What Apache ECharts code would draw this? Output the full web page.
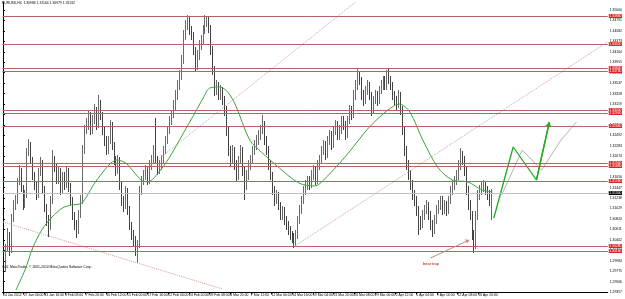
<!DOCTYPE html>
<html><head><meta charset="utf-8">
<script src="https://cdn.jsdelivr.net/npm/echarts@6/dist/echarts.min.js"></script>
<style>html,body{margin:0;padding:0;background:#fff}#c{width:625px;height:299px}</style>
</head><body><div id="c"></div>
<script>
const titleText = 'EURUSD,H4  1.30986 1.31164 1.30979 1.31132';
const copyrightText = 'GDL MetaTrader, \u00a9 2001-2014 MetaQuotes Software Corp.';
const noteText = 'bear trap';

const timeLabels = ['24 Jan 2012','27 Jan 04:00','31 Jan 16:00','3 Feb 08:00','7 Feb 20:00','10 Feb 12:00','15 Feb 00:00','17 Feb 16:00','22 Feb 04:00','24 Feb 20:00','29 Feb 08:00','4 Mar 20:00','7 Mar 12:00','12 Mar 00:00','14 Mar 16:00','19 Mar 04:00','21 Mar 20:00','26 Mar 08:00','29 Mar 00:00','2 Apr 12:00','5 Apr 04:00','9 Apr 16:00','12 Apr 08:00','16 Apr 20:00'];
const timeLabelBars = [0,16,32,48,64,80,96,112,128,144,160,176,192,208,224,240,256,272,288,304,320,336,352,368];

const priceTicks = [1.35000,1.34791,1.34582,1.34373,1.34164,1.33955,1.33746,1.33537,1.33328,1.33119,1.32910,1.32701,1.32492,1.32283,1.32074,1.31865,1.31656,1.31447,1.31238,1.31029,1.30820,1.30611,1.30402,1.30193,1.29984,1.29775,1.29566,1.29357];

const levels = [1.3488,1.3432,1.3384,1.3378,1.3300,1.3294,1.3268,1.3194,1.3188,1.3158,1.3028,1.3018];
const bidPrice = 1.3134;

// [open, close, low, high]
const candles = [
[1.3010,1.2984,1.2950,1.3020],[1.2984,1.3024,1.2976,1.3032],[1.3024,1.3050,1.3016,1.3064],[1.3050,1.3020,1.3008,1.3056],[1.3020,1.3084,1.3014,1.3092],[1.3084,1.3110,1.3076,1.3120],
[1.3110,1.3120,1.3100,1.3130],[1.3120,1.3156,1.3112,1.3164],[1.3156,1.3180,1.3150,1.3190],[1.3180,1.3144,1.3136,1.3184],[1.3144,1.3110,1.3100,1.3150],[1.3110,1.3130,1.3104,1.3140],
[1.3130,1.3216,1.3124,1.3224],[1.3216,1.3230,1.3208,1.3242],[1.3230,1.3200,1.3192,1.3236],[1.3200,1.3170,1.3160,1.3206],[1.3170,1.3150,1.3140,1.3176],[1.3150,1.3130,1.3120,1.3156],
[1.3130,1.3176,1.3124,1.3184],[1.3176,1.3196,1.3168,1.3206],[1.3196,1.3140,1.3132,1.3200],[1.3140,1.3104,1.3096,1.3148],[1.3104,1.3080,1.3068,1.3112],[1.3080,1.3068,1.3046,1.3090],
[1.3068,1.3120,1.3060,1.3128],[1.3120,1.3200,1.3112,1.3220],[1.3200,1.3188,1.3176,1.3208],[1.3188,1.3160,1.3152,1.3194],[1.3160,1.3180,1.3152,1.3188],[1.3180,1.3140,1.3130,1.3184],
[1.3140,1.3168,1.3132,1.3176],[1.3168,1.3150,1.3140,1.3176],[1.3150,1.3180,1.3144,1.3188],[1.3180,1.3148,1.3136,1.3184],[1.3148,1.3120,1.3110,1.3154],[1.3120,1.3090,1.3080,1.3126],
[1.3090,1.3070,1.3060,1.3096],[1.3070,1.3060,1.3044,1.3080],[1.3060,1.3090,1.3052,1.3100],[1.3090,1.3120,1.3084,1.3130],[1.3120,1.3220,1.3112,1.3230],[1.3220,1.3260,1.3212,1.3270],
[1.3260,1.3270,1.3252,1.3284],[1.3270,1.3290,1.3260,1.3300],[1.3290,1.3260,1.3250,1.3296],[1.3260,1.3280,1.3252,1.3290],[1.3280,1.3300,1.3272,1.3312],[1.3300,1.3270,1.3260,1.3306],
[1.3270,1.3310,1.3264,1.3330],[1.3310,1.3290,1.3280,1.3320],[1.3290,1.3260,1.3250,1.3296],[1.3260,1.3240,1.3228,1.3266],[1.3240,1.3220,1.3210,1.3248],[1.3220,1.3240,1.3212,1.3248],
[1.3240,1.3270,1.3232,1.3280],[1.3270,1.3230,1.3220,1.3276],[1.3230,1.3200,1.3190,1.3236],[1.3200,1.3180,1.3168,1.3208],[1.3180,1.3200,1.3172,1.3210],[1.3200,1.3150,1.3140,1.3206],
[1.3150,1.3120,1.3108,1.3156],[1.3120,1.3110,1.3096,1.3128],[1.3110,1.3140,1.3102,1.3148],[1.3140,1.3100,1.3090,1.3144],[1.3100,1.3070,1.3060,1.3108],[1.3070,1.3050,1.3040,1.3076],
[1.3050,1.3040,1.3028,1.3060],[1.3040,1.3020,1.3008,1.3048],[1.3020,1.3030,1.2994,1.3040],[1.3030,1.3140,1.3024,1.3148],[1.3140,1.3160,1.3130,1.3168],[1.3160,1.3170,1.3150,1.3180],
[1.3170,1.3180,1.3160,1.3190],[1.3180,1.3160,1.3150,1.3188],[1.3160,1.3190,1.3152,1.3200],[1.3190,1.3200,1.3180,1.3210],[1.3200,1.3220,1.3192,1.3230],[1.3220,1.3200,1.3192,1.3284],
[1.3200,1.3180,1.3170,1.3208],[1.3180,1.3190,1.3172,1.3200],[1.3190,1.3200,1.3180,1.3210],[1.3200,1.3220,1.3192,1.3228],[1.3220,1.3240,1.3212,1.3248],[1.3240,1.3260,1.3232,1.3268],
[1.3260,1.3280,1.3252,1.3288],[1.3280,1.3290,1.3270,1.3300],[1.3290,1.3310,1.3284,1.3320],[1.3310,1.3330,1.3300,1.3340],[1.3330,1.3350,1.3320,1.3360],[1.3350,1.3370,1.3340,1.3380],
[1.3370,1.3400,1.3360,1.3410],[1.3400,1.3450,1.3392,1.3460],[1.3450,1.3470,1.3440,1.3480],[1.3470,1.3480,1.3460,1.3490],[1.3480,1.3460,1.3450,1.3486],[1.3460,1.3450,1.3440,1.3468],
[1.3450,1.3420,1.3410,1.3456],[1.3420,1.3390,1.3376,1.3426],[1.3390,1.3410,1.3380,1.3420],[1.3410,1.3430,1.3400,1.3440],[1.3430,1.3440,1.3420,1.3450],[1.3440,1.3460,1.3432,1.3470],
[1.3460,1.3476,1.3452,1.3490],[1.3476,1.3480,1.3466,1.3488],[1.3480,1.3464,1.3454,1.3486],[1.3464,1.3420,1.3410,1.3470],[1.3420,1.3380,1.3370,1.3428],[1.3380,1.3340,1.3328,1.3388],
[1.3340,1.3350,1.3330,1.3360],[1.3350,1.3330,1.3320,1.3356],[1.3330,1.3340,1.3320,1.3350],[1.3340,1.3320,1.3310,1.3346],[1.3320,1.3300,1.3288,1.3328],[1.3300,1.3260,1.3248,1.3308],
[1.3260,1.3220,1.3208,1.3268],[1.3220,1.3200,1.3188,1.3228],[1.3200,1.3220,1.3192,1.3230],[1.3220,1.3190,1.3180,1.3226],[1.3190,1.3170,1.3156,1.3200],[1.3170,1.3200,1.3160,1.3208],
[1.3200,1.3220,1.3192,1.3230],[1.3220,1.3180,1.3168,1.3226],[1.3180,1.3150,1.3120,1.3188],[1.3150,1.3170,1.3140,1.3180],[1.3170,1.3190,1.3160,1.3200],[1.3190,1.3200,1.3180,1.3210],
[1.3200,1.3220,1.3192,1.3228],[1.3220,1.3230,1.3210,1.3240],[1.3230,1.3240,1.3220,1.3250],[1.3240,1.3250,1.3230,1.3260],[1.3250,1.3260,1.3240,1.3270],[1.3260,1.3270,1.3252,1.3290],
[1.3270,1.3240,1.3230,1.3278],[1.3240,1.3220,1.3210,1.3248],[1.3220,1.3190,1.3180,1.3228],[1.3190,1.3170,1.3160,1.3200],[1.3170,1.3140,1.3130,1.3176],[1.3140,1.3120,1.3108,1.3148],
[1.3120,1.3130,1.3112,1.3140],[1.3130,1.3110,1.3100,1.3136],[1.3110,1.3090,1.3080,1.3116],[1.3090,1.3100,1.3080,1.3108],[1.3100,1.3080,1.3070,1.3106],[1.3080,1.3070,1.3060,1.3088],
[1.3070,1.3060,1.3050,1.3078],[1.3060,1.3050,1.3040,1.3068],[1.3050,1.3044,1.3034,1.3058],[1.3044,1.3036,1.3024,1.3054],[1.3036,1.3050,1.3028,1.3060],[1.3050,1.3080,1.3042,1.3088],
[1.3080,1.3100,1.3072,1.3110],[1.3100,1.3120,1.3092,1.3128],[1.3120,1.3140,1.3112,1.3148],[1.3140,1.3150,1.3130,1.3160],[1.3150,1.3160,1.3140,1.3168],[1.3160,1.3150,1.3140,1.3168],
[1.3150,1.3170,1.3144,1.3180],[1.3170,1.3180,1.3160,1.3190],[1.3180,1.3160,1.3150,1.3188],[1.3160,1.3190,1.3152,1.3200],[1.3190,1.3200,1.3180,1.3210],[1.3200,1.3220,1.3192,1.3228],
[1.3220,1.3230,1.3210,1.3240],[1.3230,1.3210,1.3200,1.3238],[1.3210,1.3240,1.3204,1.3248],[1.3240,1.3250,1.3230,1.3260],[1.3250,1.3230,1.3220,1.3258],[1.3230,1.3260,1.3224,1.3268],
[1.3260,1.3270,1.3250,1.3280],[1.3270,1.3250,1.3240,1.3278],[1.3250,1.3260,1.3240,1.3270],[1.3260,1.3280,1.3252,1.3288],[1.3280,1.3270,1.3260,1.3288],[1.3270,1.3250,1.3240,1.3278],
[1.3250,1.3280,1.3244,1.3288],[1.3280,1.3300,1.3272,1.3310],[1.3300,1.3290,1.3280,1.3308],[1.3290,1.3330,1.3284,1.3340],[1.3330,1.3350,1.3320,1.3360],[1.3350,1.3370,1.3340,1.3384],
[1.3370,1.3360,1.3350,1.3378],[1.3360,1.3330,1.3320,1.3366],[1.3330,1.3320,1.3308,1.3340],[1.3320,1.3340,1.3312,1.3348],[1.3340,1.3350,1.3330,1.3360],[1.3350,1.3330,1.3320,1.3356],
[1.3330,1.3300,1.3288,1.3336],[1.3300,1.3320,1.3292,1.3328],[1.3320,1.3330,1.3312,1.3340],[1.3330,1.3320,1.3308,1.3338],[1.3320,1.3340,1.3312,1.3348],[1.3340,1.3350,1.3332,1.3360],
[1.3350,1.3360,1.3340,1.3368],[1.3360,1.3350,1.3340,1.3368],[1.3350,1.3370,1.3340,1.3380],[1.3370,1.3360,1.3352,1.3384],[1.3360,1.3350,1.3340,1.3368],[1.3350,1.3330,1.3320,1.3356],
[1.3330,1.3320,1.3310,1.3338],[1.3320,1.3310,1.3300,1.3328],[1.3310,1.3330,1.3304,1.3340],[1.3330,1.3300,1.3290,1.3336],[1.3300,1.3260,1.3250,1.3308],[1.3260,1.3220,1.3208,1.3268],
[1.3220,1.3190,1.3180,1.3228],[1.3190,1.3170,1.3160,1.3200],[1.3170,1.3150,1.3140,1.3180],[1.3150,1.3130,1.3120,1.3160],[1.3130,1.3120,1.3108,1.3140],[1.3120,1.3100,1.3088,1.3128],
[1.3100,1.3080,1.3050,1.3108],[1.3080,1.3070,1.3060,1.3088],[1.3070,1.3090,1.3064,1.3100],[1.3090,1.3100,1.3080,1.3110],[1.3100,1.3110,1.3092,1.3120],[1.3110,1.3090,1.3080,1.3116],
[1.3090,1.3070,1.3060,1.3098],[1.3070,1.3060,1.3046,1.3080],[1.3060,1.3080,1.3052,1.3090],[1.3080,1.3100,1.3072,1.3110],[1.3100,1.3110,1.3092,1.3120],[1.3110,1.3120,1.3100,1.3128],
[1.3120,1.3100,1.3090,1.3128],[1.3100,1.3110,1.3092,1.3120],[1.3110,1.3100,1.3088,1.3118],[1.3100,1.3120,1.3092,1.3128],[1.3120,1.3140,1.3112,1.3148],[1.3140,1.3150,1.3130,1.3160],
[1.3150,1.3160,1.3140,1.3168],[1.3160,1.3170,1.3150,1.3180],[1.3170,1.3190,1.3160,1.3200],[1.3190,1.3210,1.3180,1.3224],[1.3210,1.3200,1.3190,1.3218],[1.3200,1.3180,1.3168,1.3208],
[1.3180,1.3140,1.3130,1.3188],[1.3140,1.3110,1.3100,1.3148],[1.3110,1.3090,1.3080,1.3120],[1.3090,1.3050,1.3040,1.3098],[1.3050,1.3030,1.3014,1.3060],[1.3030,1.3090,1.3022,1.3098],
[1.3090,1.3130,1.3080,1.3140],[1.3130,1.3140,1.3120,1.3150],[1.3140,1.3144,1.3130,1.3156],[1.3144,1.3150,1.3136,1.3160],[1.3150,1.3140,1.3130,1.3158],[1.3140,1.3130,1.3120,1.3148],
[1.3130,1.3120,1.3108,1.3140],[1.3120,1.3134,1.3080,1.3142]
];

// moving average, [H4 bar index, price]
const maLine = [[10,1.2940],[17,1.2980],[23,1.3024],[30,1.3060],[38,1.3086],[46,1.3104],[53,1.3110],[61,1.3114],[71,1.3154],[82,1.3190],[88,1.3200],[95,1.3194],[102,1.3174],[107,1.3160],[112,1.3156],[122,1.3180],[130,1.3210],[141,1.3260],[149,1.3296],[155,1.3324],[160,1.3344],[168,1.3346],[174,1.3336],[180,1.3310],[191,1.3240],[200,1.3216],[214,1.3184],[229,1.3154],[241,1.3148],[252,1.3170],[268,1.3216],[283,1.3264],[298,1.3300],[307,1.3312],[315,1.3296],[325,1.3240],[337,1.3184],[348,1.3160],[360,1.3156],[371,1.3140],[379,1.3136]];
const projGreen = [[380,1.3084],[395,1.3226],[413,1.3160],[423,1.3276]];
const projGray = [[386,1.3130],[402,1.3220],[417,1.3180],[432,1.3240],[444,1.3276]];
const trendFall = [[0,1.3076],[170,1.2942]];
const trendUpA = [[109,1.3178],[273,1.3516]];
const trendUpB = [[226,1.3028],[468,1.3436]];
const trapArrow = [[331,1.3004],[361,1.3040]];

const slots = Array.from({length: 306}, (_, i) => i);
const FONT = '"Liberation Sans Narrow", "Liberation Sans", sans-serif';

const chart = echarts.init(document.getElementById('c'));
chart.setOption({
  animation: false,
  backgroundColor: '#ffffff',
  grid: {left: 0, right: 13, top: 2, bottom: 6.5},
  xAxis: [
    {type: 'category', data: slots, boundaryGap: true, show: false},
    {type: 'value', min: -0.383, max: 468.2, position: 'bottom',
      axisLine: {show: true, lineStyle: {color: '#000', width: 1}},
      splitLine: {show: false},
      axisTick: {show: true, length: 2, inside: false, customValues: timeLabelBars, lineStyle: {color: '#000'}},
      axisLabel: {customValues: timeLabelBars, fontSize: 3.4, fontFamily: FONT, color: '#000', align: 'left', margin: 1, hideOverlap: false,
        formatter: v => timeLabels[timeLabelBars.indexOf(v)] || ''}}
  ],
  yAxis: {type: 'value', position: 'right', min: 1.2935, max: 1.3516, scale: true,
    axisLine: {show: true, lineStyle: {color: '#000', width: 1}},
    splitLine: {show: false},
    axisTick: {show: true, length: 2, customValues: priceTicks, lineStyle: {color: '#000'}},
    axisLabel: {customValues: priceTicks, fontSize: 3.4, fontFamily: FONT, color: '#000', margin: 2,
      formatter: v => v.toFixed(5)}},
  graphic: [
    {type: 'text', left: 2, top: 2, style: {text: titleText, fontSize: 3.4, fontFamily: FONT, fill: '#000'}},
    {type: 'text', left: 2, top: 266, style: {text: copyrightText, fontSize: 3.4, fontFamily: FONT, fill: '#000'}},
    {type: 'text', left: 423, top: 262, style: {text: noteText, fontSize: 4, fontFamily: FONT, fill: '#c00000'}}
  ],
  series: [
    {type: 'candlestick', xAxisIndex: 0, data: candles, barWidth: 1.2,
      itemStyle: {color: '#ffffff', color0: '#000000', borderColor: '#444444', borderColor0: '#111111', borderWidth: 0.8},
      markLine: {silent: true, symbol: 'none', animation: false, precision: 5,
        lineStyle: {color: '#b46464', width: 1, type: 'solid'},
        label: {show: true, position: 'end', distance: 1, formatter: p => Number(p.value).toFixed(5), fontSize: 3.4, fontFamily: FONT,
          color: '#fff', backgroundColor: '#e02020', padding: [0.5, 0.5]},
        data: levels.map(v => ({yAxis: v}))}},
    {type: 'line', xAxisIndex: 1, data: [], markLine: {silent: true, symbol: 'none', precision: 5,
        lineStyle: {color: '#c0c0c0', width: 1, type: 'solid'},
        label: {show: true, position: 'end', distance: 1, formatter: p => Number(p.value).toFixed(5), fontSize: 3.4, fontFamily: FONT,
          color: '#fff', backgroundColor: '#000', padding: [0.5, 0.5]},
        data: [{yAxis: bidPrice}]}},
    {type: 'line', xAxisIndex: 1, data: maLine, smooth: 0.3, symbol: 'none', lineStyle: {color: '#3aa53a', width: 1}},
    {type: 'line', xAxisIndex: 1, data: trendFall, symbol: 'none', lineStyle: {color: '#d69a9a', width: 1, type: 'dotted'}},
    {type: 'line', xAxisIndex: 1, data: trendUpA, symbol: 'none', lineStyle: {color: '#d69a9a', width: 1, type: 'dotted'}},
    {type: 'line', xAxisIndex: 1, data: trendUpB, symbol: 'none', lineStyle: {color: '#d69a9a', width: 1, type: 'dotted'}},
    {type: 'line', xAxisIndex: 1, data: projGray, symbol: 'none', lineStyle: {color: '#b4b4b4', width: 1}},
    {type: 'line', xAxisIndex: 1, data: projGreen, symbol: 'none', lineStyle: {color: '#22aa22', width: 1.3},
      markLine: {silent: true, symbol: ['none', 'arrow'], symbolSize: 5, label: {show: false}, precision: 5,
        lineStyle: {color: '#22aa22', width: 1.3, type: 'solid'},
        data: [[{coord: projGreen[2]}, {coord: projGreen[3]}]]}},
    {type: 'line', xAxisIndex: 1, data: [], markLine: {silent: true, symbol: ['none', 'arrow'], symbolSize: 4, label: {show: false}, precision: 5,
        lineStyle: {color: '#d88080', width: 1, type: 'solid'},
        data: [[{coord: trapArrow[0]}, {coord: trapArrow[1]}]]}}
  ]
});
</script></body></html>
